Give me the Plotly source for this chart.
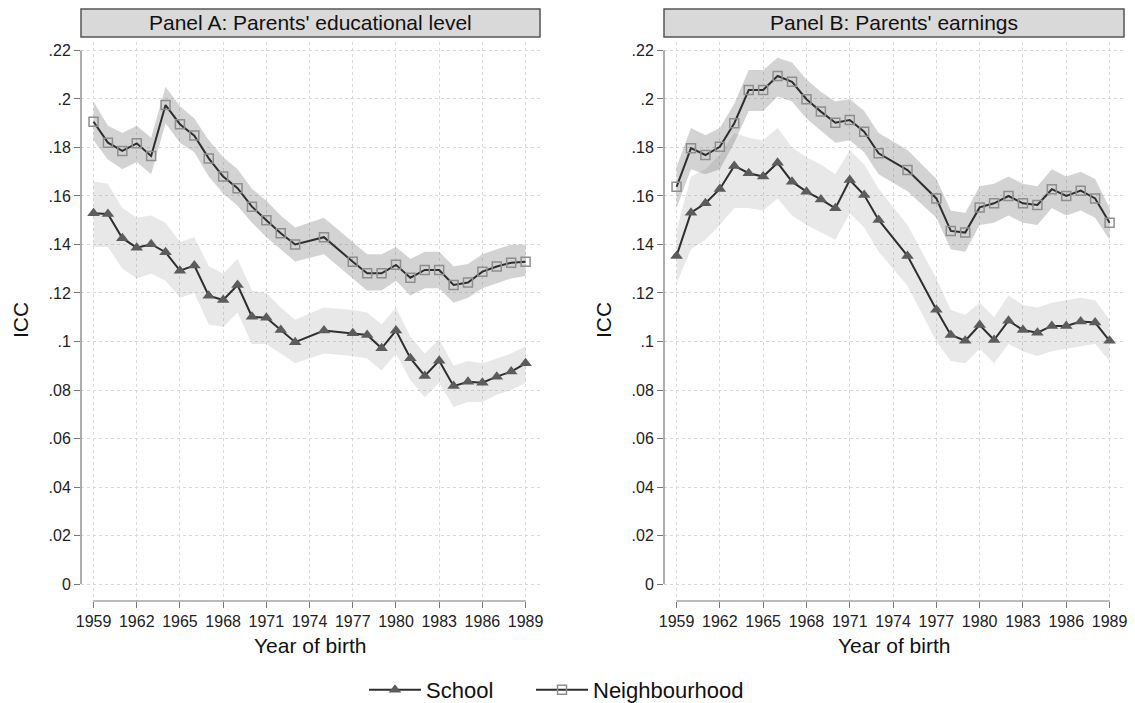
import plotly.graph_objects as go

W, H = 1135, 703

years = [1959, 1960, 1961, 1962, 1963, 1964, 1965, 1966, 1967, 1968, 1969, 1970,
         1971, 1972, 1973, 1975, 1977, 1978, 1979, 1980, 1981, 1982, 1983, 1984,
         1985, 1986, 1987, 1988, 1989]

# Panel A: parents' educational level
school_a = [0.1529, 0.1526, 0.1426, 0.1387, 0.1401, 0.1368, 0.1292, 0.1313, 0.1189, 0.1171,
            0.1233, 0.1102, 0.1098, 0.1047, 0.0997, 0.1045, 0.1034, 0.1027, 0.0972, 0.1045,
            0.0931, 0.0858, 0.0921, 0.0816, 0.0834, 0.0830, 0.0855, 0.0876, 0.0910]
school_a_hi = [0.166, 0.165, 0.155, 0.151, 0.152, 0.149, 0.141, 0.143, 0.131, 0.128,
               0.134, 0.121, 0.120, 0.114, 0.109, 0.114, 0.113, 0.112, 0.107, 0.114,
               0.102, 0.095, 0.101, 0.090, 0.092, 0.091, 0.093, 0.095, 0.098]
school_a_lo = [0.139, 0.139, 0.130, 0.126, 0.128, 0.125, 0.118, 0.120, 0.107, 0.106,
               0.112, 0.099, 0.099, 0.095, 0.091, 0.095, 0.094, 0.093, 0.088, 0.095,
               0.084, 0.077, 0.083, 0.073, 0.075, 0.075, 0.078, 0.080, 0.083]
neigh_a = [0.1906, 0.1820, 0.1786, 0.1817, 0.1765, 0.1975, 0.1896, 0.1849, 0.1755, 0.1680,
           0.1632, 0.1556, 0.1500, 0.1446, 0.1400, 0.1430, 0.1329, 0.1281, 0.1281, 0.1316,
           0.1263, 0.1295, 0.1295, 0.1233, 0.1243, 0.1288, 0.1309, 0.1325, 0.1329]
neigh_a_hi = [0.199, 0.189, 0.186, 0.189, 0.184, 0.205, 0.197, 0.192, 0.183, 0.176,
              0.171, 0.163, 0.158, 0.152, 0.147, 0.151, 0.141, 0.136, 0.136, 0.139,
              0.134, 0.137, 0.137, 0.131, 0.132, 0.136, 0.138, 0.140, 0.140]
neigh_a_lo = [0.183, 0.175, 0.171, 0.174, 0.169, 0.190, 0.182, 0.178, 0.168, 0.161,
              0.156, 0.149, 0.143, 0.138, 0.133, 0.136, 0.126, 0.121, 0.121, 0.125,
              0.119, 0.122, 0.122, 0.116, 0.118, 0.122, 0.124, 0.126, 0.127]

# Panel B: parents' earnings
school_b = [0.1353, 0.1531, 0.1570, 0.1629, 0.1724, 0.1694, 0.1680, 0.1737, 0.1659, 0.1618,
            0.1586, 0.1549, 0.1666, 0.1604, 0.1501, 0.1353, 0.1131, 0.1027, 0.1003, 0.1068,
            0.1006, 0.1086, 0.1047, 0.1036, 0.1064, 0.1064, 0.1082, 0.1078, 0.1003]
school_b_hi = [0.146, 0.168, 0.171, 0.177, 0.186, 0.184, 0.183, 0.188, 0.180, 0.176,
               0.173, 0.169, 0.179, 0.173, 0.163, 0.148, 0.126, 0.113, 0.111, 0.116,
               0.110, 0.119, 0.115, 0.114, 0.116, 0.117, 0.118, 0.117, 0.109]
school_b_lo = [0.124, 0.138, 0.142, 0.148, 0.155, 0.155, 0.154, 0.159, 0.152, 0.148,
               0.145, 0.142, 0.153, 0.147, 0.137, 0.123, 0.100, 0.092, 0.091, 0.097,
               0.091, 0.099, 0.096, 0.094, 0.096, 0.097, 0.098, 0.099, 0.092]
neigh_b = [0.1638, 0.1797, 0.1769, 0.1803, 0.1900, 0.2037, 0.2037, 0.2095, 0.2071, 0.1999,
           0.1948, 0.1902, 0.1913, 0.1865, 0.1776, 0.1707, 0.1590, 0.1456, 0.1449, 0.1553,
           0.1570, 0.1600, 0.1570, 0.1563, 0.1628, 0.1600, 0.1622, 0.1590, 0.1490]
neigh_b_hi = [0.172, 0.188, 0.185, 0.188, 0.198, 0.212, 0.212, 0.217, 0.215, 0.208,
              0.203, 0.199, 0.200, 0.195, 0.186, 0.179, 0.167, 0.154, 0.153, 0.164,
              0.165, 0.168, 0.165, 0.164, 0.171, 0.168, 0.170, 0.167, 0.155]
neigh_b_lo = [0.155, 0.171, 0.169, 0.171, 0.182, 0.195, 0.195, 0.201, 0.199, 0.192,
              0.187, 0.182, 0.183, 0.178, 0.169, 0.162, 0.151, 0.138, 0.137, 0.148,
              0.149, 0.152, 0.149, 0.148, 0.155, 0.152, 0.154, 0.151, 0.142]

panel_titles = ["Panel A: Parents' educational level", "Panel B: Parents' earnings"]
x_ticks = [1959, 1962, 1965, 1968, 1971, 1974, 1977, 1980, 1983, 1986, 1989]
y_tickvals = [0, 0.02, 0.04, 0.06, 0.08, 0.1, 0.12, 0.14, 0.16, 0.18, 0.2, 0.22]
y_ticktext = ["0", ".02", ".04", ".06", ".08", ".1", ".12", ".14", ".16", ".18", ".2", ".22"]

FONT = "Liberation Sans, Arial, sans-serif"
LINE_C = "#2e2e2e"
TRI_C = "#5c5c5c"
SQ_C = "#8e8e8e"
BAND_S = "rgba(150,150,150,0.22)"
BAND_N = "rgba(120,120,120,0.33)"


def px_x(p):
    return p / W


def px_y(p):
    return 1 - p / H


domA = [px_x(81), px_x(540)]
domB = [px_x(664), px_x(1124)]
ydom = [px_y(601), px_y(42)]

fig = go.Figure()

panels = [
    ("x", "y", school_a, school_a_lo, school_a_hi, neigh_a, neigh_a_lo, neigh_a_hi),
    ("x2", "y2", school_b, school_b_lo, school_b_hi, neigh_b, neigh_b_lo, neigh_b_hi),
]

for i, (xa, ya, s, slo, shi, n, nlo, nhi) in enumerate(panels):
    first = i == 0
    fig.add_trace(go.Scatter(x=years + years[::-1], y=shi + slo[::-1], fill="toself",
                             fillcolor=BAND_S, line=dict(width=0), mode="lines",
                             hoverinfo="skip", showlegend=False, xaxis=xa, yaxis=ya))
    fig.add_trace(go.Scatter(x=years + years[::-1], y=nhi + nlo[::-1], fill="toself",
                             fillcolor=BAND_N, line=dict(width=0), mode="lines",
                             hoverinfo="skip", showlegend=False, xaxis=xa, yaxis=ya))
    fig.add_trace(go.Scatter(x=years, y=s, mode="lines+markers", name="School",
                             line=dict(color=LINE_C, width=2),
                             marker=dict(symbol="triangle-up", size=11, color=TRI_C),
                             showlegend=first, legend="legend", xaxis=xa, yaxis=ya))
    fig.add_trace(go.Scatter(x=years, y=n, mode="lines+markers", name="Neighbourhood",
                             line=dict(color=LINE_C, width=2),
                             marker=dict(symbol="square-open", size=9, color=SQ_C,
                                         line=dict(width=1.5, color=SQ_C)),
                             showlegend=first, legend="legend2", xaxis=xa, yaxis=ya))

xcommon = dict(range=[1958.13, 1990.0], tickvals=x_ticks, showline=False, zeroline=False,
               ticks="outside", ticklen=6, tickcolor="#777", showgrid=True,
               gridcolor="#d9d9d9", griddash="dot", gridwidth=1, automargin=False,
               tickfont=dict(family=FONT, size=16, color="#222"))
ycommon = dict(range=[-0.00701, 0.2235], tickvals=y_tickvals, ticktext=y_ticktext,
               showline=False, zeroline=False, ticks="outside", ticklen=6, tickcolor="#777",
               showgrid=True, gridcolor="#d9d9d9", griddash="dot", gridwidth=1,
               automargin=False,
               tickfont=dict(family=FONT, size=16, color="#222"), domain=ydom)

fig.update_layout(
    xaxis=dict(domain=domA, anchor="y", **xcommon),
    yaxis=dict(anchor="x", **ycommon),
    xaxis2=dict(domain=domB, anchor="y2", **xcommon),
    yaxis2=dict(anchor="x2", **ycommon),
)

shapes = []
annotations = []
for i, (xa, ya, dom, cx) in enumerate([("x", "y", domA, 309.5), ("x2", "y2", domB, 893.5)]):
    shapes.append(dict(type="line", xref=f"{xa} domain", yref=ya, x0=0, x1=0, y0=0, y1=0.22,
                       line=dict(color="#777", width=1.2)))
    shapes.append(dict(type="line", xref=xa, yref=f"{ya} domain", x0=1959, x1=1989, y0=0, y1=0,
                       line=dict(color="#777", width=1.2)))
    shapes.append(dict(type="rect", xref="paper", yref="paper", x0=dom[0], x1=dom[1],
                       y0=px_y(37), y1=px_y(9), fillcolor="#d9d9d9",
                       line=dict(color="#555", width=1.5), layer="below"))
    annotations.append(dict(text=panel_titles[i], xref="paper", yref="paper",
                            x=(dom[0] + dom[1]) / 2, y=px_y(23), showarrow=False,
                            xanchor="center", yanchor="middle",
                            font=dict(family=FONT, size=21, color="#111")))
    annotations.append(dict(text="Year of birth", xref="paper", yref="paper",
                            x=px_x(cx), y=px_y(645), showarrow=False, xanchor="center",
                            yanchor="middle", font=dict(family=FONT, size=21, color="#111")))
    annotations.append(dict(text="ICC", xref="paper", yref="paper",
                            x=px_x(20 if i == 0 else 603), y=px_y(320), showarrow=False,
                            textangle=-90, xanchor="center", yanchor="middle",
                            font=dict(family=FONT, size=21, color="#111")))

legend_common = dict(orientation="h", xanchor="left", y=px_y(690), yanchor="middle",
                     font=dict(family=FONT, size=22, color="#111"), itemwidth=52,
                     bgcolor="rgba(0,0,0,0)")

fig.update_layout(
    shapes=shapes, annotations=annotations,
    width=W, height=H, margin=dict(l=0, r=0, t=0, b=0, autoexpand=False),
    paper_bgcolor="white", plot_bgcolor="white",
    showlegend=True,
    legend=dict(x=px_x(364), **legend_common),
    legend2=dict(x=px_x(531), **legend_common),
    font=dict(family=FONT),
)

fig.write_html("out.html", post_script="document.body.style.margin='0px';",
               config={"displayModeBar": False})
